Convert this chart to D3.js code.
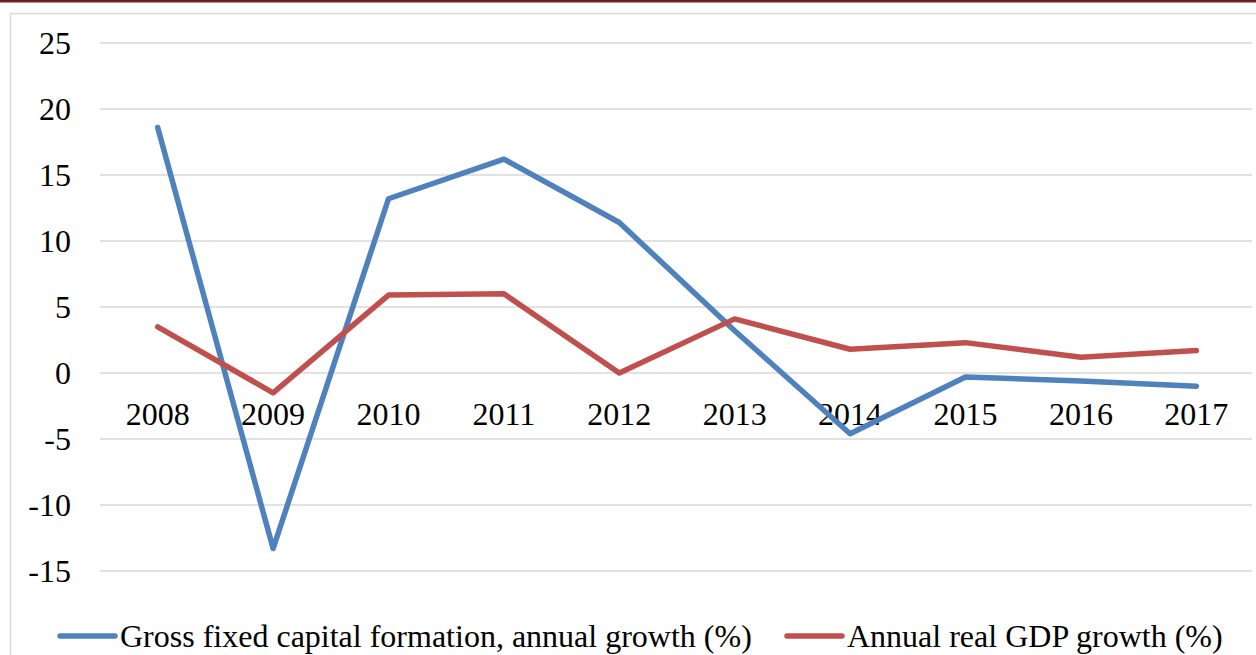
<!DOCTYPE html>
<html>
<head>
<meta charset="utf-8">
<script src="https://cdn.jsdelivr.net/npm/d3@7"></script>
<style>
  html, body { margin: 0; padding: 0; background: #fff; overflow: hidden; }
  text { font-family: "Liberation Serif", "Times New Roman", serif; fill: #000; }
</style>
</head>
<body>
<div id="chart"></div>
<script>
// Data
var years = ['2008', '2009', '2010', '2011', '2012', '2013', '2014', '2015', '2016', '2017'];
var gfcfGrowth = [18.6, -13.3, 13.2, 16.2, 11.4, 3.2, -4.6, -0.3, -0.6, -1.0];
var gdpGrowth = [3.5, -1.5, 5.9, 6.0, 0.0, 4.1, 1.8, 2.3, 1.2, 1.7];
var yTicks = [25, 20, 15, 10, 5, 0, -5, -10, -15];
var seriesNames = ['Gross fixed capital formation, annual growth (%)', 'Annual real GDP growth (%)'];
var seriesColors = ['#4f81bd', '#c0504d'];

var width = 1256, height = 655;
var plot = {left: 100, right: 1254, top: 43, bottom: 571};

var svg = d3.select('#chart').append('svg')
    .attr('width', width)
    .attr('height', height);

// top rule and chart frame
svg.append('rect').attr('x', 0).attr('y', 0).attr('width', width).attr('height', 2.5).attr('fill', '#6d2020');
svg.append('rect')
    .attr('x', 10.5).attr('y', 13.5)
    .attr('width', width).attr('height', height)
    .attr('fill', 'none').attr('stroke', '#d9d9d9').attr('stroke-width', 1.5);

var x = d3.scaleBand().domain(years).range([plot.left, plot.right]);
var y = d3.scaleLinear().domain([-15, 25]).range([plot.bottom, plot.top]);

// gridlines
svg.append('g').selectAll('line')
    .data(yTicks).enter().append('line')
    .attr('x1', plot.left).attr('x2', plot.right - 2)
    .attr('y1', function (d) { return y(d); })
    .attr('y2', function (d) { return y(d); })
    .attr('stroke', '#d9d9d9').attr('stroke-width', 1.5);

// y labels
svg.append('g').selectAll('text')
    .data(yTicks).enter().append('text')
    .attr('x', 71)
    .attr('y', function (d) { return y(d); })
    .attr('dy', '0.34em')
    .attr('text-anchor', 'end')
    .style('font-size', '32px')
    .text(function (d) { return d; });

// category labels sit just under the zero line
svg.append('g').selectAll('text')
    .data(years).enter().append('text')
    .attr('x', function (d) { return x(d) + x.bandwidth() / 2; })
    .attr('y', y(0) + 52)
    .attr('text-anchor', 'middle')
    .style('font-size', '32px')
    .text(function (d) { return d; });

var line = d3.line()
    .x(function (d, i) { return x(years[i]) + x.bandwidth() / 2; })
    .y(function (d) { return y(d); });

[gfcfGrowth, gdpGrowth].forEach(function (vals, k) {
    svg.append('path')
        .datum(vals)
        .attr('d', line)
        .attr('fill', 'none')
        .attr('stroke', seriesColors[k])
        .attr('stroke-width', 5.5)
        .attr('stroke-linejoin', 'round')
        .attr('stroke-linecap', 'round');
});

// legend
var legendX = [60, 787], legendY = 636;
seriesNames.forEach(function (name, k) {
    var g = svg.append('g').attr('transform', 'translate(' + legendX[k] + ',' + legendY + ')');
    g.append('line')
        .attr('x1', 0).attr('x2', 55)
        .attr('stroke', seriesColors[k]).attr('stroke-width', 5.5)
        .attr('stroke-linecap', 'round');
    g.append('text')
        .attr('x', 60).attr('dy', '0.34em')
        .style('font-size', '32px')
        .text(name);
});
</script>
</body>
</html>
